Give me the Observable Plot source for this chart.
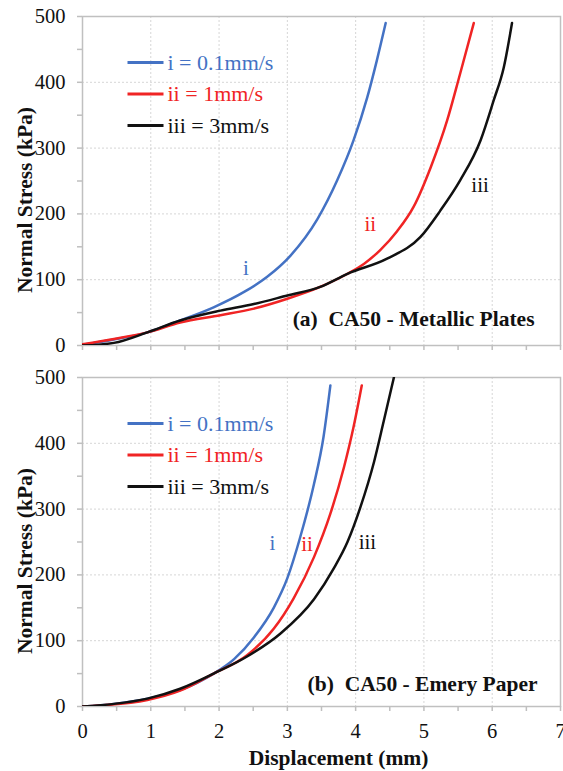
<!DOCTYPE html>
<html><head><meta charset="utf-8">
<script src="https://cdn.jsdelivr.net/npm/d3@7"></script>
<script src="https://cdn.jsdelivr.net/npm/@observablehq/plot@0.6"></script>
<style>body{margin:0;background:#fff} #chart svg{display:block}</style>
</head><body><div id="chart"></div>
<script>
const seriesNames = ["i = 0.1mm/s", "ii = 1mm/s", "iii = 3mm/s"];
const seriesKeys = ["i", "ii", "iii"];
const seriesColors = ["#4472c4", "#f02424", "#111111"];
const xTicks = [0, 1, 2, 3, 4, 5, 6, 7];
const xMinor = [0.5, 1.5, 2.5, 3.5, 4.5, 5.5, 6.5];
const yTicks = [0, 100, 200, 300, 400, 500];
const yMinor = [50, 150, 250, 350, 450];

// (a) Metallic plates
const aX_i = [0, 0.46, 0.95, 1.43, 1.92, 2.36, 2.70, 3.05, 3.44, 3.73, 3.97, 4.17, 4.31, 4.44];
const aY_i = [1, 9, 20, 38, 58, 81, 104, 137, 192, 251, 312, 377, 433, 490];
const aX_ii = [0, 0.46, 0.95, 1.43, 2.02, 2.51, 3.0, 3.48, 3.88, 4.12, 4.36, 4.61, 4.85, 5.10, 5.34, 5.53, 5.73];
const aY_ii = [2, 10, 20, 35, 46, 56, 71, 89, 109, 124, 145, 174, 211, 271, 342, 413, 490];
const aX_iii = [0, 0.46, 0.95, 1.43, 2.02, 2.51, 3.0, 3.48, 3.88, 4.46, 4.95, 5.24, 5.53, 5.83, 6.02, 6.17, 6.29];
const aY_iii = [0, 4, 20, 38, 53, 63, 76, 89, 109, 132, 165, 205, 251, 312, 372, 423, 490];

// (b) Emery paper
const bX_i = [0, 0.46, 0.95, 1.43, 1.92, 2.22, 2.51, 2.80, 3.0, 3.19, 3.39, 3.53, 3.63];
const bY_i = [0, 4, 12, 25, 50, 72, 105, 150, 195, 258, 338, 410, 488];
const bX_ii = [0, 0.95, 1.43, 1.92, 2.41, 2.80, 3.09, 3.39, 3.63, 3.83, 3.97, 4.09];
const bY_ii = [0, 10, 24, 50, 78, 118, 164, 227, 293, 364, 425, 488];
const bX_iii = [0, 0.46, 0.95, 1.43, 1.92, 2.41, 2.90, 3.39, 3.68, 3.88, 4.07, 4.27, 4.41, 4.56];
const bY_iii = [0, 4, 12, 27, 50, 76, 111, 163, 210, 250, 303, 372, 433, 500];

const notes = ["(a)  CA50 - Metallic Plates", "(b)  CA50 - Emery Paper"];
const yTitle = "Normal Stress (kPa)";
const xTitle = "Displacement (mm)";

const zip = (xs, ys) => xs.map((x, i) => ({x, y: ys[i]}));
const FONT = "'Liberation Serif', 'Times New Roman', Times, serif";

const hline = {draw(ctx) { ctx.moveTo(-18, 0); ctx.lineTo(18, 0); }};

function panel({curves, labelSpec, note, noteDx, noteDy, showX, height, marginTop, marginBottom}) {
  const marks = [
    Plot.gridX(xTicks.slice(1, -1), {stroke: "#d6d6d6", strokeOpacity: 1, strokeDasharray: "2,2"}),
    Plot.gridY(yTicks.slice(1, -1), {stroke: "#d6d6d6", strokeOpacity: 1, strokeDasharray: "2,2"}),
    Plot.frame({stroke: "#c0c0c0", strokeWidth: 1.5}),
    Plot.axisY(yTicks, {tickSize: 5, tickPadding: 12, stroke: "#bfbfbf", strokeWidth: 1.5, fill: "#111", fontSize: 20.5, label: null}),
    Plot.axisY(yMinor, {tickSize: 5, tickFormat: () => "", stroke: "#bfbfbf", strokeWidth: 1.5, label: null}),
    Plot.axisX(xTicks, {tickSize: 5, tickPadding: 12, stroke: "#bfbfbf", strokeWidth: 1.5, fill: "#111", fontSize: 20.5, label: null, tickFormat: showX ? (d => d) : () => ""}),
    Plot.axisX(xMinor, {tickSize: 5, tickFormat: () => "", stroke: "#bfbfbf", strokeWidth: 1.5, label: null}),
  ];
  curves.forEach((c, i) => {
    marks.push(Plot.line(c, {x: "x", y: "y", stroke: seriesColors[i], strokeWidth: 2.5, curve: "monotone-x", clip: true}));
  });
  labelSpec.forEach((l, i) => {
    marks.push(Plot.text([curves[i][l.idx]], {x: "x", y: "y", text: () => seriesKeys[i], fill: seriesColors[i], fontSize: 21, dx: l.dx, dy: l.dy}));
  });
  seriesNames.forEach((name, i) => {
    marks.push(Plot.dot([0], {frameAnchor: "top-left", dx: 63, dy: 46 + 31.5 * i, symbol: hline, r: 1, stroke: seriesColors[i], strokeWidth: 3, fill: "none"}));
    marks.push(Plot.text([name], {frameAnchor: "top-left", dx: 85, dy: 46 + 31.5 * i, text: d => d, textAnchor: "start", lineAnchor: "middle", fill: seriesColors[i], fontSize: 22}));
  });
  marks.push(Plot.text([note], {frameAnchor: "bottom-right", dx: noteDx, dy: noteDy, text: d => d, textAnchor: "end", lineAnchor: "bottom", fontSize: 21.5, fontWeight: "bold", fill: "#111"}));
  marks.push(Plot.text([yTitle], {frameAnchor: "left", dx: -57, dy: 19, rotate: -90, text: d => d, textAnchor: "middle", lineAnchor: "middle", fontSize: 21.5, fontWeight: "bold", fill: "#111"}));
  if (showX) {
    marks.push(Plot.text([xTitle], {frameAnchor: "bottom", dx: 17, dy: 58, text: d => d, textAnchor: "middle", lineAnchor: "bottom", fontSize: 21.5, fontWeight: "bold", fill: "#111"}));
  }
  return Plot.plot({
    width: 563,
    height,
    marginLeft: 82,
    marginRight: 3,
    marginTop,
    marginBottom,
    style: {fontFamily: FONT, background: "#fff", overflow: "visible"},
    x: {domain: [0, 7]},
    y: {domain: [0, 500]},
    marks
  });
}

const chart = document.getElementById("chart");
chart.appendChild(panel({
  curves: [zip(aX_i, aY_i), zip(aX_ii, aY_ii), zip(aX_iii, aY_iii)],
  labelSpec: [{idx: 6, dx: -21, dy: -9}, {idx: 10, dx: -10, dy: -26}, {idx: 12, dx: 20, dy: 5}],
  note: notes[0], noteDx: -26, noteDy: -20,
  showX: false, height: 360, marginTop: 16, marginBottom: 15
}));
chart.appendChild(panel({
  curves: [zip(bX_i, bY_i), zip(bX_ii, bY_ii), zip(bX_iii, bY_iii)],
  labelSpec: [{idx: 8, dx: -15, dy: -35}, {idx: 7, dx: -7, dy: -13}, {idx: 9, dx: 20, dy: 0}],
  note: notes[1], noteDx: -23, noteDy: -16,
  showX: true, height: 411, marginTop: 17, marginBottom: 65
}));
</script>
</body></html>
